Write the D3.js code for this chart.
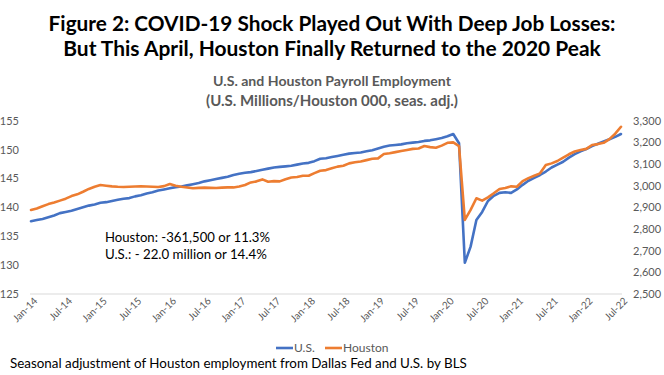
<!DOCTYPE html>
<html>
<head>
<meta charset="utf-8">
<script src="https://cdn.jsdelivr.net/npm/d3@7"></script>
<style>
  body { margin: 0; background: #fff; }
  svg { display: block; font-family: Lato, "Open Sans", sans-serif; }
</style>
</head>
<body>
<svg width="664" height="375"></svg>
<script>
"use strict";

// monthly categories Jan-14 .. Jul-22
const months = d3.timeMonth.range(new Date(2014, 0, 1), new Date(2022, 7, 1));
const monthFmt = d3.timeFormat("%b-%y");
const monthLabels = months.map(monthFmt);

const tickLabels = ["Jan-14", "Jul-14", "Jan-15", "Jul-15", "Jan-16", "Jul-16", "Jan-17", "Jul-17", "Jan-18",
  "Jul-18", "Jan-19", "Jul-19", "Jan-20", "Jul-20", "Jan-21", "Jul-21", "Jan-22", "Jul-22"];

// U.S. payroll employment, millions (left axis)
const usJobs = [
  137.6, 137.8, 138.0, 138.3, 138.6, 139.0, 139.2, 139.4, 139.7, 140.0, 140.3, 140.5,
  140.8, 140.9, 141.1, 141.3, 141.5, 141.6, 141.9, 142.1, 142.4, 142.6, 142.9, 143.1,
  143.3, 143.5, 143.6, 143.8, 144.0, 144.2, 144.5, 144.7, 144.9, 145.1, 145.3, 145.6,
  145.8, 146.0, 146.1, 146.3, 146.5, 146.7, 146.9, 147.0, 147.1, 147.2, 147.4, 147.6,
  147.7, 148.0, 148.4, 148.5, 148.7, 148.9, 149.1, 149.3, 149.4, 149.5, 149.7, 149.9,
  150.2, 150.5, 150.7, 150.8, 150.9, 151.1, 151.2, 151.3, 151.5, 151.6, 151.8, 152.0,
  152.3, 152.7, 151.1, 130.4, 133.2, 137.8, 139.2, 141.1, 142.0, 142.5, 142.6, 142.5,
  143.1, 143.9, 144.6, 145.1, 145.6, 146.2, 146.9, 147.4, 147.9, 148.6, 149.2, 149.7,
  150.1, 150.6, 151.0, 151.4, 151.8, 152.2, 152.7
];

// Houston payroll employment, thousands (right axis)
const houstonJobs = [
  2888, 2895, 2905, 2915, 2922, 2931, 2940, 2952, 2960, 2972, 2985, 2995,
  3003, 3000, 2997, 2995, 2994, 2995, 2996, 2997, 2996, 2995, 2994, 2998,
  3008, 3000, 2995, 2992, 2988, 2990, 2991, 2990, 2989, 2991, 2992, 2992,
  2996, 3003, 3015, 3020, 3029, 3018, 3021, 3020, 3030, 3038, 3040, 3046,
  3046, 3058, 3069, 3072, 3080, 3088, 3092, 3103, 3108, 3112, 3118, 3124,
  3126, 3146, 3150, 3155, 3160, 3165, 3170, 3172, 3183, 3178, 3175, 3185,
  3198, 3200, 3183, 2842, 2888, 2942, 2931, 2946, 2965, 2985, 2989, 2997,
  2995, 3021, 3035, 3046, 3057, 3095, 3103, 3114, 3130, 3145, 3158, 3165,
  3170, 3188, 3192, 3198, 3215, 3240, 3272
];

const leftTicks = [125, 130, 135, 140, 145, 150, 155];
const rightTicks = [2500, 2600, 2700, 2800, 2900, 3000, 3100, 3200, 3300];

const titleLines = [
  "Figure 2: COVID-19 Shock Played Out With Deep Job Losses:",
  "But This April, Houston Finally Returned to the 2020 Peak"
];
const subtitleLines = ["U.S. and Houston Payroll Employment", "(U.S. Millions/Houston 000, seas. adj.)"];
const noteLines = ["Houston: -361,500 or 11.3%", "U.S.: - 22.0 million or 14.4%"];
const footnote = "Seasonal adjustment of Houston employment from Dallas Fed and U.S. by BLS";

const usColor = "#4472c4";
const houColor = "#ed7d31";
const labelGray = "#595959";

const svg = d3.select("svg");

// scale a text's font-size so it spans the wanted width
function fitWidth(sel, width) {
  const w = sel.node().getComputedTextLength();
  const fs = parseFloat(sel.attr("font-size"));
  sel.attr("font-size", (fs * width / w).toFixed(2));
}

const x = d3.scalePoint().domain(monthLabels).range([31, 621]);
const yLeft = d3.scaleLinear().domain([125, 155]).range([294, 120.7]);
const yRight = d3.scaleLinear().domain([2500, 3300]).range([294, 120.7]);

// bottom gridline
svg.append("line")
  .attr("x1", 30).attr("x2", 622)
  .attr("y1", yLeft(125)).attr("y2", yLeft(125))
  .attr("stroke", "#d9d9d9").attr("stroke-width", 1);

// left axis
const leftAxis = d3.axisLeft(yLeft).tickValues(leftTicks).tickSize(0).tickPadding(0);
svg.append("g").attr("transform", "translate(19,0)").call(leftAxis)
  .call(g => g.select(".domain").remove())
  .selectAll("text").attr("font-size", 11).attr("fill", labelGray).attr("font-family", "Lato, sans-serif");

// right axis
const rightAxis = d3.axisRight(yRight).tickValues(rightTicks).tickSize(0).tickPadding(0).tickFormat(d3.format(","));
svg.append("g").attr("transform", "translate(633,0)").call(rightAxis)
  .call(g => g.select(".domain").remove())
  .selectAll("text").attr("font-size", 11).attr("fill", labelGray).attr("font-family", "Lato, sans-serif");

// bottom axis, rotated labels
const xAxis = d3.axisBottom(x).tickValues(tickLabels).tickSize(0);
svg.append("g").attr("transform", "translate(0,297)").call(xAxis)
  .call(g => g.select(".domain").remove())
  .selectAll("text")
  .attr("font-size", 10).attr("fill", labelGray).attr("font-family", "Lato, sans-serif")
  .attr("text-anchor", "end")
  .attr("dy", "0.35em")
  .attr("transform", "translate(2,0) rotate(-45)");

// lines
const usLine = d3.line().x((d, i) => x(monthLabels[i])).y(d => yLeft(d));
const houLine = d3.line().x((d, i) => x(monthLabels[i])).y(d => yRight(d));

svg.append("path").attr("d", usLine(usJobs))
  .attr("fill", "none").attr("stroke", usColor).attr("stroke-width", 2.6)
  .attr("stroke-linejoin", "round").attr("stroke-linecap", "round");
svg.append("path").attr("d", houLine(houstonJobs))
  .attr("fill", "none").attr("stroke", houColor).attr("stroke-width", 2.6)
  .attr("stroke-linejoin", "round").attr("stroke-linecap", "round");

// title
const titleY = [31, 56];
const titleW = [567, 538];
titleLines.forEach((t, i) => {
  const txt = svg.append("text").attr("x", 332).attr("y", titleY[i])
    .attr("text-anchor", "middle").attr("font-size", 22).attr("font-weight", "bold")
    .attr("fill", "#000").text(t);
  fitWidth(txt, titleW[i]);
});

// subtitle
const subY = [86, 106];
const subW = [238, 252];
subtitleLines.forEach((t, i) => {
  const txt = svg.append("text").attr("x", 332).attr("y", subY[i])
    .attr("text-anchor", "middle").attr("font-size", 14).attr("font-weight", "bold")
    .attr("fill", labelGray).text(t);
  fitWidth(txt, subW[i]);
});

// annotation
const noteY = [242, 259];
noteLines.forEach((t, i) => {
  const txt = svg.append("text").attr("x", 105).attr("y", noteY[i])
    .attr("font-size", 13).attr("fill", "#000").text(t);
  fitWidth(txt, i === 0 ? 165 : 162);
});

// legend
const legend = [
  { name: "U.S.", color: usColor, x: 276 },
  { name: "Houston", color: houColor, x: 325 }
];
legend.forEach(l => {
  svg.append("line").attr("x1", l.x).attr("x2", l.x + 17)
    .attr("y1", 348).attr("y2", 348)
    .attr("stroke", l.color).attr("stroke-width", 2.6);
  svg.append("text").attr("x", l.x + 18).attr("y", 352)
    .attr("font-size", 12).attr("fill", labelGray).text(l.name);
});

// footnote
const foot = svg.append("text").attr("x", 10).attr("y", 368)
  .attr("font-size", 15).attr("fill", "#000").text(footnote);
fitWidth(foot, 457);
</script>
</body>
</html>
